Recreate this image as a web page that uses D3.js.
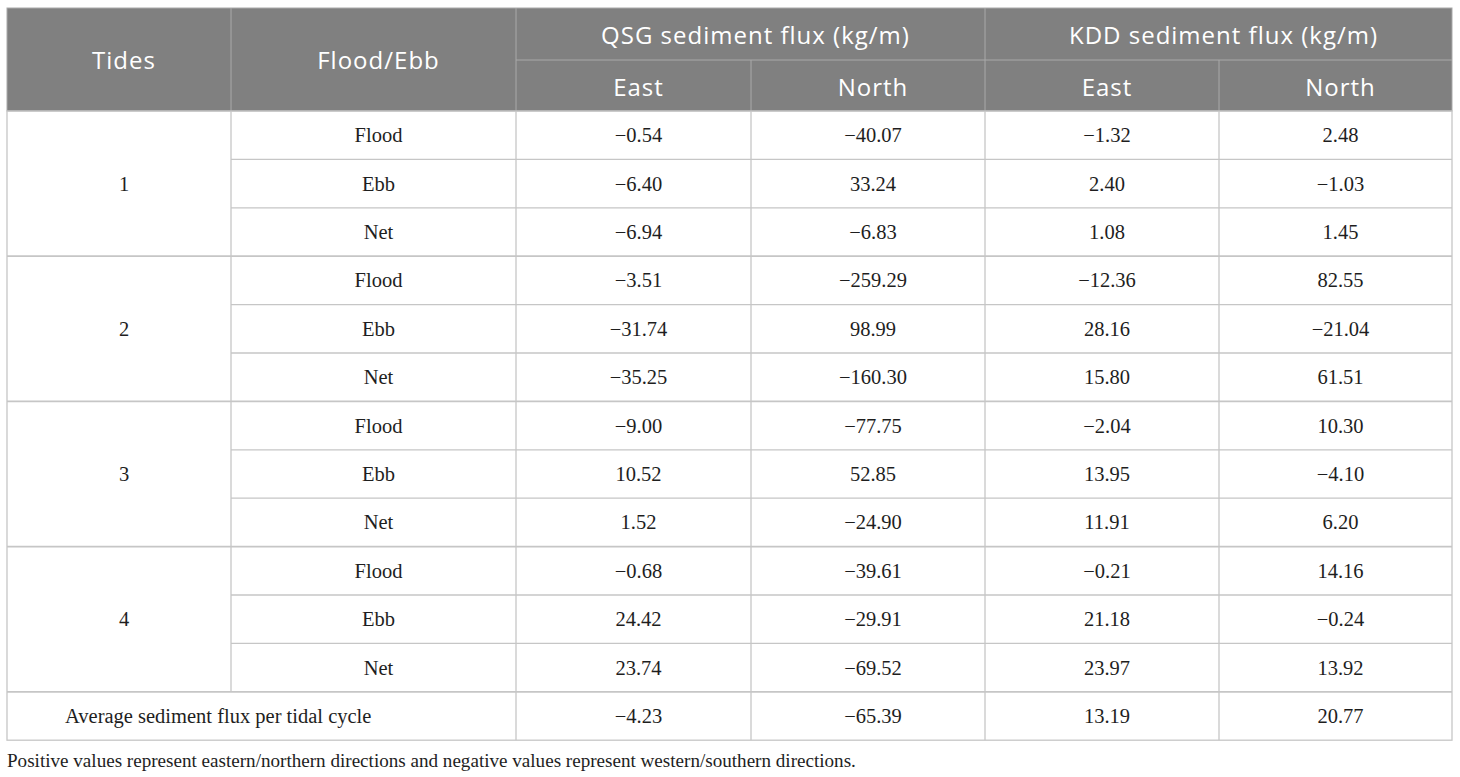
<!DOCTYPE html>
<html>
<head>
<meta charset="utf-8">
<script src="https://cdn.jsdelivr.net/npm/d3@7"></script>
<style>
  body { margin: 0; background: #fff; }
  svg { display: block; }
</style>
</head>
<body>
<div id="table"></div>
<script>
// table contents
const tides = ["1", "2", "3", "4"];
const phases = ["Flood", "Ebb", "Net"];
const groups = ["QSG sediment flux (kg/m)", "KDD sediment flux (kg/m)"];
const directions = ["East", "North"];
const qsgEast  = ["\u22120.54", "\u22126.40", "\u22126.94", "\u22123.51", "\u221231.74", "\u221235.25", "\u22129.00", "10.52", "1.52", "\u22120.68", "24.42", "23.74"];
const qsgNorth = ["\u221240.07", "33.24", "\u22126.83", "\u2212259.29", "98.99", "\u2212160.30", "\u221277.75", "52.85", "\u221224.90", "\u221239.61", "\u221229.91", "\u221269.52"];
const kddEast  = ["\u22121.32", "2.40", "1.08", "\u221212.36", "28.16", "15.80", "\u22122.04", "13.95", "11.91", "\u22120.21", "21.18", "23.97"];
const kddNorth = ["2.48", "\u22121.03", "1.45", "82.55", "\u221221.04", "61.51", "10.30", "\u22124.10", "6.20", "14.16", "\u22120.24", "13.92"];
const averageLabel = "Average sediment flux per tidal cycle";
const averages = ["\u22124.23", "\u221265.39", "13.19", "20.77"];
const footnote = "Positive values represent eastern/northern directions and negative values represent western/southern directions.";

const W = 1460, H = 777;
const colEdges = [7, 231, 516, 751, 985, 1219, 1452];
const headTop = 8, headMid = 60, headBot = 111;
const rowH = 48.4;
const nRows = tides.length * phases.length + 1;
const pad = 5; // cell text sits a little right of centre

const svg = d3.select("#table").append("svg")
    .attr("width", W)
    .attr("height", H);

const x = i => colEdges[i];
const cx = (a, b) => (colEdges[a] + colEdges[b]) / 2 + pad;
const y = d3.scaleLinear().domain([0, nRows]).range([headBot, headBot + nRows * rowH]);

const headFont = "'Open Sans', 'Noto Sans', sans-serif";
const bodyFont = "'Liberation Serif', 'DejaVu Serif', serif";
const lineCol = "#c6c6c6";
const headLine = "#a9a9a9";

// header block
svg.append("rect")
    .attr("x", x(0)).attr("y", headTop)
    .attr("width", x(6) - x(0)).attr("height", headBot - headTop)
    .attr("fill", "#808080");

const hl = svg.append("g").attr("stroke", headLine).attr("stroke-width", 1);
[1, 2, 4].forEach(i => hl.append("line")
    .attr("x1", x(i)).attr("x2", x(i)).attr("y1", headTop).attr("y2", headBot));
[3, 5].forEach(i => hl.append("line")
    .attr("x1", x(i)).attr("x2", x(i)).attr("y1", headMid).attr("y2", headBot));
hl.append("line").attr("x1", x(2)).attr("x2", x(6)).attr("y1", headMid).attr("y2", headMid);
hl.append("rect").attr("x", x(0)).attr("y", headTop)
    .attr("width", x(6) - x(0)).attr("height", headBot - headTop).attr("fill", "none");

const headText = svg.append("g")
    .attr("font-family", headFont)
    .attr("font-size", 24)
    .attr("letter-spacing", 1)
    .attr("fill", "#fff")
    .attr("text-anchor", "middle")
    .attr("dominant-baseline", "central");

headText.append("text").attr("x", cx(0, 1)).attr("y", (headTop + headBot) / 2).text("Tides");
headText.append("text").attr("x", cx(1, 2)).attr("y", (headTop + headBot) / 2).text("Flood/Ebb");
groups.forEach((g, i) => headText.append("text")
    .attr("x", cx(2 + 2 * i, 4 + 2 * i)).attr("y", (headTop + headMid) / 2).text(g));
[0, 1, 2, 3].forEach(i => headText.append("text")
    .attr("x", cx(2 + i, 3 + i)).attr("y", (headMid + headBot) / 2 + 1).text(directions[i % 2]));

// body grid
const grid = svg.append("g").attr("stroke", lineCol).attr("stroke-width", 1.3).attr("fill", "none");
d3.range(1, nRows).forEach(r => {
    const groupEdge = r % phases.length === 0;
    grid.append("line")
        .attr("x1", groupEdge ? x(0) : x(1)).attr("x2", x(6))
        .attr("y1", y(r)).attr("y2", y(r))
        .attr("stroke-width", groupEdge ? 1.8 : 1.3);
});
[2, 3, 4, 5].forEach(i => grid.append("line")
    .attr("x1", x(i)).attr("x2", x(i)).attr("y1", y(0)).attr("y2", y(nRows)));
grid.append("line")
    .attr("x1", x(1)).attr("x2", x(1)).attr("y1", y(0)).attr("y2", y(nRows - 1));
grid.append("rect")
    .attr("x", x(0)).attr("y", y(0))
    .attr("width", x(6) - x(0)).attr("height", y(nRows) - y(0));

// body text
const body = svg.append("g")
    .attr("font-family", bodyFont)
    .attr("font-size", 20.5)
    .attr("fill", "#1e1e1e")
    .attr("text-anchor", "middle")
    .attr("dominant-baseline", "central");

const columns = [qsgEast, qsgNorth, kddEast, kddNorth];
tides.forEach((t, ti) => {
    const r0 = ti * phases.length;
    body.append("text").attr("x", cx(0, 1)).attr("y", y(r0 + phases.length / 2)).text(t);
    phases.forEach((p, pi) => {
        const r = r0 + pi;
        body.append("text").attr("x", cx(1, 2)).attr("y", y(r + 0.5)).text(p);
        columns.forEach((col, ci) => body.append("text")
            .attr("x", cx(2 + ci, 3 + ci)).attr("y", y(r + 0.5)).text(col[r]));
    });
});
body.append("text")
    .attr("x", 65).attr("y", y(nRows - 0.5))
    .attr("text-anchor", "start")
    .text(averageLabel);
averages.forEach((v, ci) => body.append("text")
    .attr("x", cx(2 + ci, 3 + ci)).attr("y", y(nRows - 0.5)).text(v));

// footnote
svg.append("text")
    .attr("x", x(0)).attr("y", 760)
    .attr("font-family", bodyFont)
    .attr("font-size", 19.1)
    .attr("fill", "#1e1e1e")
    .attr("dominant-baseline", "central")
    .text(footnote);
</script>
</body>
</html>
